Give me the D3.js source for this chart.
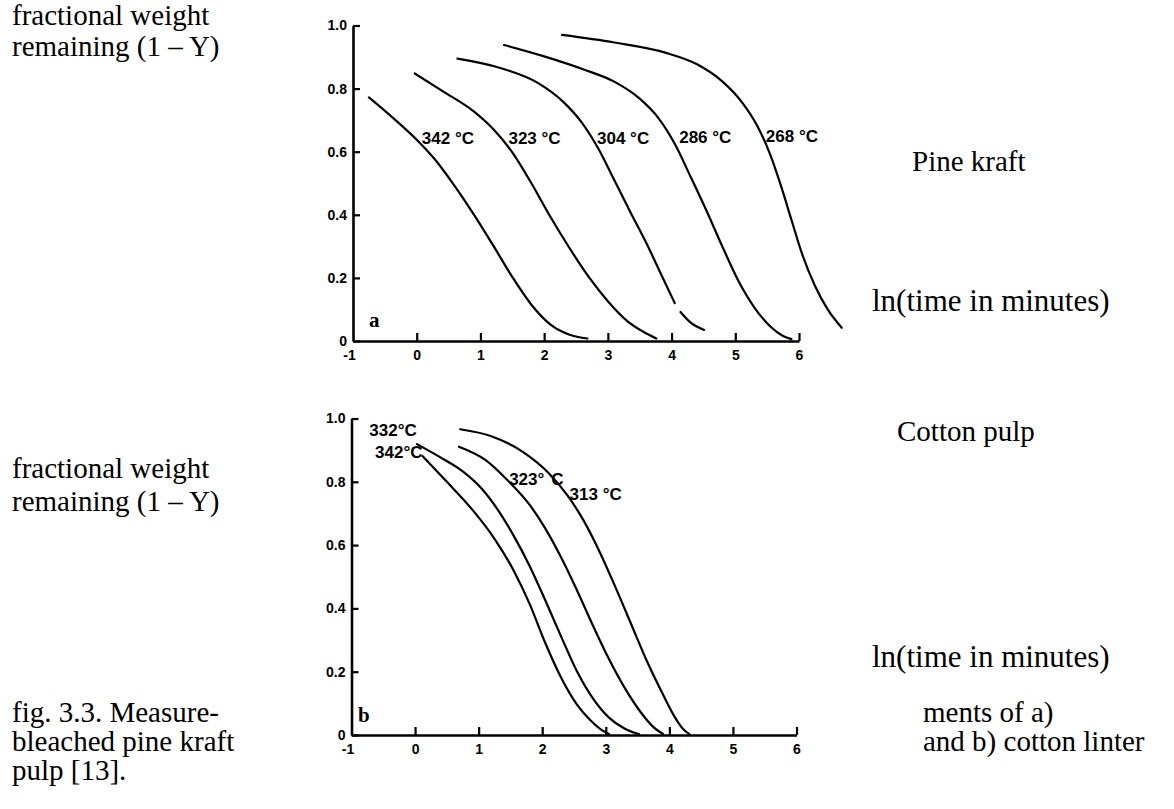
<!DOCTYPE html>
<html>
<head>
<meta charset="utf-8">
<script src="https://cdn.jsdelivr.net/npm/d3@7/dist/d3.min.js"></script>
<style>
  html, body { margin: 0; padding: 0; background: #fff; }
  svg { display: block; }
  .serif { font-family: "Liberation Serif", "Times New Roman", serif; fill: #000; }
  .tick text { font-family: "Liberation Sans", Arial, sans-serif; font-weight: bold; font-size: 14px; fill: #000; }
  .curve-label { font-family: "Liberation Sans", Arial, sans-serif; font-weight: bold; font-size: 17px; fill: #000; }
</style>
</head>
<body>
<svg id="fig" width="1174" height="809"></svg>
<script>
// Axis ticks shared by both panels: x = ln(time in minutes), y = fractional weight remaining
const xTicks = [-1, 0, 1, 2, 3, 4, 5, 6];
const xTickLabels = ["-1", "0", "1", "2", "3", "4", "5", "6"];
const yTicks = [0, 0.2, 0.4, 0.6, 0.8, 1.0];
const yTickLabels = ["0", "0.2", "0.4", "0.6", "0.8", "1.0"];

// Panel a: bleached pine kraft, isothermal runs  [ln t, 1 - Y]
const pineLabels = ["342 °C", "323 °C", "304 °C", "286 °C", "268 °C"];
const pine342 = [[-0.75,0.772],[-0.4,0.712],[0.0,0.638],[0.3,0.572],[0.6,0.490],[0.9,0.400],[1.2,0.303],[1.5,0.203],[1.8,0.115],[2.1,0.052],[2.4,0.020],[2.68,0.008]];
const pine323 = [[-0.03,0.848],[0.4,0.793],[0.9,0.727],[1.2,0.672],[1.5,0.598],[1.8,0.500],[2.1,0.393],[2.4,0.294],[2.7,0.203],[3.0,0.126],[3.3,0.064],[3.55,0.030],[3.76,0.008]];
// the 304 °C trace has a short break in the pen line near ln t = 4.1
const pine304 = [[0.64,0.895],[1.3,0.866],[1.9,0.818],[2.3,0.758],[2.6,0.690],[2.85,0.610],[3.1,0.510],[3.35,0.410],[3.6,0.312],[3.85,0.205],[4.05,0.120],[4.10,null],[4.14,0.092],[4.3,0.058],[4.51,0.035]];
const pine286 = [[1.37,0.938],[2.0,0.902],[2.6,0.862],[3.1,0.822],[3.5,0.768],[3.8,0.705],[4.05,0.625],[4.3,0.520],[4.55,0.412],[4.8,0.298],[5.05,0.190],[5.3,0.106],[5.55,0.046],[5.75,0.016],[5.88,0.006]];
const pine268 = [[2.28,0.970],[3.1,0.946],[3.9,0.914],[4.4,0.877],[4.8,0.822],[5.1,0.758],[5.35,0.680],[5.55,0.590],[5.72,0.490],[5.88,0.385],[6.05,0.275],[6.25,0.175],[6.45,0.100],[6.67,0.042]];
// label anchors in data units (left edge, baseline)
const pineLabelAt = [[0.08,0.624],[1.44,0.624],[2.83,0.624],[4.12,0.628],[5.48,0.631]];

// Panel b: cotton linter pulp
const cottonLabels = ["332°C", "342°C", "323°", "313 °C"];
const cotton342 = [[0.12,0.881],[0.5,0.800],[0.9,0.712],[1.25,0.620],[1.55,0.520],[1.8,0.415],[2.05,0.290],[2.3,0.180],[2.55,0.095],[2.75,0.048],[2.92,0.018],[3.05,0.003]];
const cotton332 = [[0.03,0.919],[0.4,0.877],[0.75,0.833],[1.05,0.778],[1.3,0.712],[1.55,0.630],[1.8,0.535],[2.05,0.425],[2.3,0.310],[2.55,0.200],[2.8,0.115],[3.05,0.055],[3.3,0.020],[3.52,0.003]];
const cotton323 = [[0.69,0.911],[1.1,0.870],[1.45,0.806],[1.8,0.728],[2.05,0.652],[2.3,0.560],[2.55,0.456],[2.8,0.345],[3.05,0.240],[3.3,0.148],[3.55,0.072],[3.75,0.025],[3.9,0.003]];
const cotton313 = [[0.71,0.966],[1.2,0.944],[1.7,0.894],[2.1,0.828],[2.4,0.756],[2.65,0.678],[2.9,0.580],[3.15,0.468],[3.4,0.350],[3.65,0.232],[3.9,0.128],[4.1,0.052],[4.22,0.018],[4.32,0.002]];
const cottonLabelAt = [[-0.72,0.945],[-0.63,0.874],[1.48,0.790],[2.43,0.743]];

const svg = d3.select("#fig");
svg.append("rect").attr("width", 1174).attr("height", 809).attr("fill", "#fff");

function drawPanel(opt) {
  const { x, y, series, labels, labelAt, letter, letterPos } = opt;
  const g = svg.append("g");

  const line = d3.line()
    .defined(d => d[1] !== null)
    .x(d => x(d[0]))
    .y(d => y(d[1]))
    .curve(d3.curveMonotoneX);

  g.selectAll("path.curve")
    .data(series)
    .join("path")
    .attr("class", "curve")
    .attr("d", line)
    .attr("fill", "none")
    .attr("stroke", "#000")
    .attr("stroke-width", 2.2)
    .attr("stroke-linecap", "round");

  const yAxis = d3.axisLeft(y)
    .tickValues(yTicks)
    .tickFormat((d, i) => yTickLabels[i])
    .tickSizeInner(-7)
    .tickSizeOuter(0)
    .tickPadding(6);
  const xAxis = d3.axisBottom(x)
    .tickValues(xTicks)
    .tickFormat((d, i) => xTickLabels[i])
    .tickSizeInner(-8)
    .tickSizeOuter(0)
    .tickPadding(9);

  const gy = g.append("g").attr("transform", `translate(${x(-1)},0)`).call(yAxis);
  const gx = g.append("g").attr("transform", `translate(0,${y(0)})`).call(xAxis);
  [gx, gy].forEach(a => {
    a.select(".domain").attr("stroke", "#000").attr("stroke-width", 2.6);
    a.selectAll(".tick line").attr("stroke", "#000").attr("stroke-width", 2.2);
    a.attr("font-family", null).attr("font-size", null);
  });
  // the -1 tick coincides with the vertical axis
  gx.selectAll(".tick").filter(d => d === -1).select("line").remove();
  gx.selectAll(".tick").filter(d => d === -1).select("text").attr("dx", -4);

  labels.forEach((t, i) => {
    const txt = g.append("text")
      .attr("class", "curve-label")
      .attr("x", x(labelAt[i][0]))
      .attr("y", y(labelAt[i][1]))
      .text(t);
    if (t === "323°") txt.append("tspan").attr("dx", 7).text("C");
  });

  g.append("text")
    .attr("class", "serif")
    .attr("x", letterPos[0])
    .attr("y", letterPos[1])
    .attr("font-size", 21)
    .attr("font-weight", "bold")
    .text(letter);
}

const xA = d3.scaleLinear().domain([-1, 6]).range([353, 799]);
const yA = d3.scaleLinear().domain([0, 1]).range([341, 25.5]);
drawPanel({
  x: xA, y: yA,
  series: [pine342, pine323, pine304, pine286, pine268],
  labels: pineLabels, labelAt: pineLabelAt,
  letter: "a", letterPos: [369, 327]
});

const xB = d3.scaleLinear().domain([-1, 6]).range([351.5, 796.5]);
const yB = d3.scaleLinear().domain([0, 1]).range([735, 418.5]);
drawPanel({
  x: xB, y: yB,
  series: [cotton342, cotton332, cotton323, cotton313],
  labels: cottonLabels, labelAt: cottonLabelAt,
  letter: "b", letterPos: [358, 722]
});

// Surrounding text of the figure page
const pageText = [
  { t: "fractional weight", x: 12, y: 25, s: 29 },
  { t: "remaining (1 \u2013 Y)", x: 12, y: 56, s: 29 },
  { t: "Pine kraft", x: 912, y: 171, s: 29 },
  { t: "ln(time in minutes)", x: 872, y: 311, s: 31 },
  { t: "fractional weight", x: 12, y: 478, s: 29 },
  { t: "remaining (1 \u2013 Y)", x: 12, y: 511, s: 29 },
  { t: "Cotton pulp", x: 897, y: 441, s: 29 },
  { t: "ln(time in minutes)", x: 872, y: 667, s: 31 },
  { t: "fig. 3.3. Measure-", x: 12, y: 722, s: 29 },
  { t: "bleached pine kraft", x: 12, y: 751, s: 29 },
  { t: "pulp [13].", x: 12, y: 780, s: 29 },
  { t: "ments of a)", x: 923, y: 722, s: 29 },
  { t: "and b) cotton linter", x: 923, y: 751, s: 29 }
];
svg.selectAll("text.page")
  .data(pageText)
  .join("text")
  .attr("class", "page serif")
  .attr("x", d => d.x)
  .attr("y", d => d.y)
  .attr("font-size", d => d.s)
  .text(d => d.t);
</script>
</body>
</html>
